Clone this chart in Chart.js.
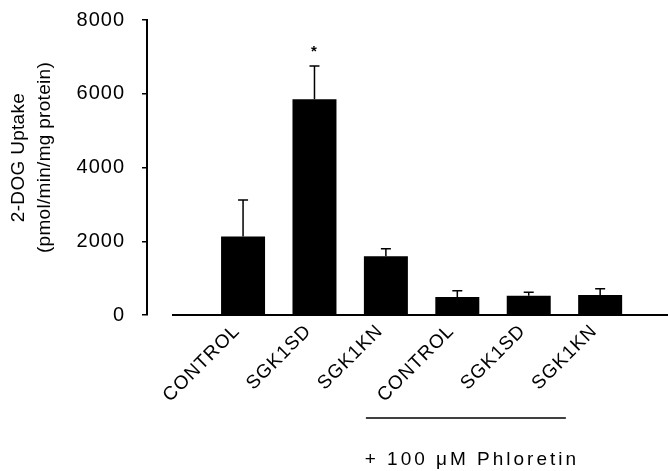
<!DOCTYPE html>
<html>
<head>
<meta charset="utf-8">
<script src="https://cdn.jsdelivr.net/npm/chart.js@4.4.1/dist/chart.umd.min.js"></script>
<style>
  html, body { margin: 0; padding: 0; background: #fff; }
  #wrap { width: 668px; height: 471px; position: relative; }
</style>
</head>
<body>
<div id="wrap"><canvas id="c"></canvas></div>
<script>
const categories = ['CONTROL', 'SGK1SD', 'SGK1KN', 'CONTROL', 'SGK1SD', 'SGK1KN'];
const uptake = [2130, 5850, 1590, 490, 520, 540];
const sem = [990, 900, 210, 170, 100, 170];
const marks = ['', '*', '', '', '', ''];
const yTicks = [0, 2000, 4000, 6000, 8000];
const yTitle = ['2-DOG Uptake', '(pmol/min/mg protein)'];
const groupLabel = '+ 100 \u03BCM Phloretin';
const groupStart = 3, groupEnd = 5;

const FONT = '"Liberation Sans", Arial, Helvetica, sans-serif';

const extras = {
  id: 'extras',
  beforeDraw(chart) {
    chart.ctx.letterSpacing = '1px';
  },
  afterDatasetsDraw(chart) {
    const ctx = chart.ctx;
    const xs = chart.scales.x, ys = chart.scales.y;
    const area = chart.chartArea;
    ctx.save();
    const y0 = ys.getPixelForValue(0);
    ctx.strokeStyle = '#000';
    ctx.lineWidth = 2;
    ctx.beginPath();
    ctx.moveTo(area.left + 25, y0);
    ctx.lineTo(area.right, y0);
    ctx.stroke();
    ctx.lineWidth = 1.5;
    uptake.forEach((v, i) => {
      const cx = xs.getPixelForValue(i);
      const yt = ys.getPixelForValue(v);
      const ye = ys.getPixelForValue(v + sem[i]);
      ctx.beginPath();
      ctx.moveTo(cx, yt);
      ctx.lineTo(cx, ye);
      ctx.moveTo(cx - 5, ye);
      ctx.lineTo(cx + 5, ye);
      ctx.stroke();
      if (marks[i]) {
        ctx.fillStyle = '#000';
        ctx.font = 'bold 15px ' + FONT;
        ctx.textAlign = 'center';
        ctx.textBaseline = 'middle';
        ctx.fillText(marks[i], cx, ye - 14);
      }
    });
    ctx.fillStyle = '#000';
    ctx.font = '19px ' + FONT;
    ctx.textAlign = 'center';
    ctx.textBaseline = 'middle';
    ctx.letterSpacing = '0.3px';
    const yc = (area.top + area.bottom) / 2 - 10;
    [19, 45].forEach((xx, k) => {
      ctx.save();
      ctx.translate(xx, yc);
      ctx.rotate(-Math.PI / 2);
      ctx.fillText(yTitle[k], 0, 0);
      ctx.restore();
    });
    const gx1 = xs.getPixelForValue(groupStart - 1.28);
    const gx2 = xs.getPixelForValue(groupEnd - 0.48);
    ctx.lineWidth = 1.5;
    ctx.beginPath();
    ctx.moveTo(gx1, y0 + 103);
    ctx.lineTo(gx2, y0 + 103);
    ctx.stroke();
    ctx.letterSpacing = '3px';
    ctx.font = '19px ' + FONT;
    ctx.fillText(groupLabel, (gx1 + gx2) / 2 + 6, y0 + 145);
    ctx.restore();
  }
};

new Chart(document.getElementById('c'), {
  type: 'bar',
  data: {
    datasets: [{
      data: uptake.map((v, i) => ({ x: i, y: v })),
      backgroundColor: '#000',
      borderWidth: 0,
      barPercentage: 0.616,
      categoryPercentage: 1
    }]
  },
  options: {
    responsive: true,
    maintainAspectRatio: false,
    animation: false,
    devicePixelRatio: 1,
    layout: { padding: { top: 20, right: 0, left: 0, bottom: 0 } },
    plugins: { legend: { display: false }, tooltip: { enabled: false } },
    scales: {
      x: {
        type: 'linear',
        offset: false,
        min: -1.345,
        max: 5.95,
        grid: { display: false, offset: false },
        border: { display: false },
        afterBuildTicks: (s) => { s.ticks = categories.map((c, i) => ({ value: i })); },
        afterFit: (s) => { s.height = 156; s.paddingLeft = 0; s.paddingRight = 0; },
        ticks: {
          autoSkip: false,
          minRotation: 45,
          maxRotation: 45,
          padding: -3,
          labelOffset: -6,
          color: '#000',
          font: { family: FONT, size: 19 },
          callback: (v) => categories[v]
        }
      },
      y: {
        min: 0,
        max: 8000,
        afterBuildTicks: (s) => { s.ticks = yTicks.map(v => ({ value: v })); },
        afterFit: (s) => { s.width = 147; s.paddingTop = 0; s.paddingBottom = 0; },
        grid: { drawOnChartArea: false, tickLength: 5, color: '#000', lineWidth: 1.5 },
        border: { display: true, color: '#000', width: 2 },
        ticks: {
          padding: 17,
          color: '#000',
          font: { family: FONT, size: 20 },
          callback: (v) => String(v)
        }
      }
    }
  },
  plugins: [extras]
});
</script>
</body>
</html>
